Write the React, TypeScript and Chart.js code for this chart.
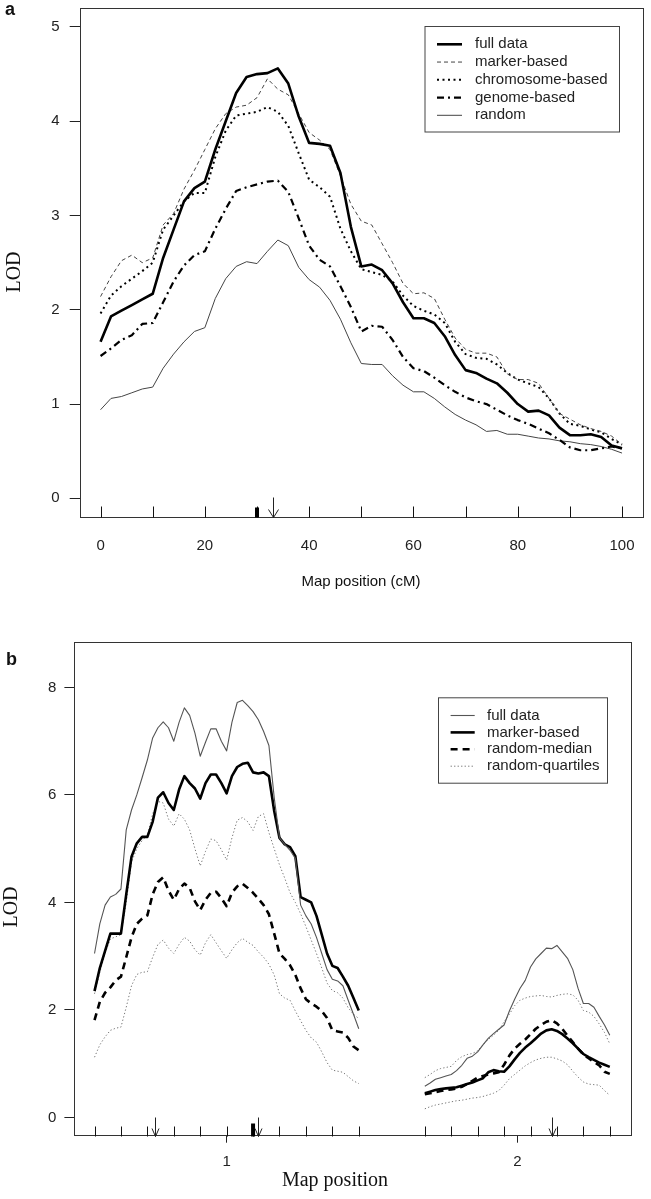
import React, { useEffect, useRef } from "react";
import { Chart, registerables } from "chart.js";

Chart.register(...registerables);

const SANS = '"Liberation Sans", Arial, Helvetica, sans-serif';
const SERIF = '"Liberation Serif", "Times New Roman", serif';

// ---------------- Panel a (map position in cM) ----------------
const posA = [0, 2, 4, 6, 8, 10, 12, 14, 16, 18, 20, 22, 24, 26, 28, 30, 32, 34, 36, 38, 40, 42, 44, 46, 48, 50, 52, 54, 56, 58, 60, 62, 64, 66, 68, 70, 72, 74, 76, 78, 80, 82, 84, 86, 88, 90, 92, 94, 96, 98, 100];
const fullA = [1.66, 1.93, 1.99, 2.05, 2.11, 2.17, 2.55, 2.85, 3.15, 3.29, 3.36, 3.7, 4.0, 4.3, 4.47, 4.5, 4.51, 4.56, 4.4, 4.05, 3.77, 3.76, 3.74, 3.45, 2.88, 2.46, 2.48, 2.42, 2.28, 2.08, 1.91, 1.91, 1.86, 1.72, 1.52, 1.36, 1.33, 1.27, 1.22, 1.12, 1.0, 0.92, 0.93, 0.88, 0.75, 0.67, 0.67, 0.68, 0.65, 0.56, 0.53];
const markerA = [2.14, 2.35, 2.52, 2.58, 2.5, 2.55, 2.9, 3.02, 3.28, 3.48, 3.7, 3.92, 4.08, 4.15, 4.17, 4.25, 4.45, 4.34, 4.28, 4.08, 3.88, 3.8, 3.7, 3.42, 3.12, 2.94, 2.9, 2.7, 2.5, 2.28, 2.17, 2.18, 2.12, 1.9, 1.7, 1.58, 1.54, 1.54, 1.5, 1.32, 1.26, 1.26, 1.22, 1.06, 0.9, 0.84, 0.78, 0.74, 0.71, 0.66, 0.57];
const chromA = [1.96, 2.15, 2.25, 2.33, 2.41, 2.5, 2.85, 3.0, 3.15, 3.24, 3.24, 3.62, 3.9, 4.06, 4.08, 4.1, 4.15, 4.1, 3.95, 3.66, 3.38, 3.3, 3.2, 2.86, 2.62, 2.43, 2.4, 2.37, 2.3, 2.15, 2.04, 1.99, 1.95, 1.86, 1.66, 1.53, 1.49, 1.48, 1.42, 1.33, 1.26, 1.22, 1.18, 1.06, 0.9, 0.79, 0.77, 0.73, 0.7, 0.63, 0.57];
const genomeA = [1.51, 1.59, 1.68, 1.73, 1.85, 1.86, 2.08, 2.3, 2.47, 2.58, 2.62, 2.86, 3.07, 3.26, 3.3, 3.33, 3.36, 3.37, 3.25, 2.97, 2.68, 2.53, 2.46, 2.25, 2.03, 1.77, 1.83, 1.82, 1.68, 1.5, 1.38, 1.35, 1.28, 1.2, 1.13, 1.07, 1.03, 1.0, 0.94, 0.88, 0.83, 0.79, 0.74, 0.69, 0.62, 0.54, 0.51, 0.51, 0.53, 0.55, 0.53];
const randomA = [0.94, 1.06, 1.08, 1.12, 1.16, 1.18, 1.38, 1.53, 1.66, 1.77, 1.81, 2.12, 2.33, 2.46, 2.51, 2.49, 2.62, 2.74, 2.68, 2.45, 2.32, 2.24, 2.1, 1.9, 1.65, 1.43, 1.42, 1.42, 1.3, 1.2, 1.13, 1.13, 1.06, 0.97, 0.89, 0.83, 0.78, 0.71, 0.72, 0.68, 0.68, 0.66, 0.64, 0.63, 0.61, 0.6, 0.58, 0.57, 0.55, 0.52, 0.48];
const xTicksA = [0, 20, 40, 60, 80, 100];
const yTicksA = [0, 1, 2, 3, 4, 5];
const markersA = [0, 10, 20, 30, 40, 50, 60, 70, 80, 90, 100];
const qtlA = [30];
const arrowsA = [33];

// ---------------- Panel b (two chromosomes) ----------------
const chrCenter = [1, 2];
const chrLength = [100, 70];
const cmPerUnit = 110;
const posB1 = [0, 2, 4, 6, 8, 10, 12, 14, 16, 18, 20, 22, 24, 26, 28, 30, 32, 34, 36, 38, 40, 42, 44, 46, 48, 50, 52, 54, 56, 58, 60, 62, 64, 66, 68, 70, 72, 74, 76, 78, 80, 82, 84, 86, 88, 90, 92, 94, 96, 98, 100];
const posB2 = [0, 2, 4, 6, 8, 10, 12, 14, 16, 18, 20, 22, 24, 26, 28, 30, 32, 34, 36, 38, 40, 42, 44, 46, 48, 50, 52, 54, 56, 58, 60, 62, 64, 66, 68, 70];
const fullB1 = [3.05, 3.6, 3.95, 4.1, 4.15, 4.25, 5.35, 5.72, 6.0, 6.32, 6.65, 7.06, 7.25, 7.36, 7.25, 7.0, 7.35, 7.62, 7.48, 7.15, 6.72, 6.98, 7.23, 7.23, 7.0, 6.82, 7.35, 7.72, 7.76, 7.66, 7.55, 7.4, 7.18, 6.92, 5.95, 5.2, 5.08, 4.97, 4.82, 3.95, 3.75, 3.6, 3.35, 3.05, 2.75, 2.57, 2.54, 2.45, 2.18, 1.92, 1.65];
const markerB1 = [2.35, 2.78, 3.1, 3.42, 3.42, 3.42, 4.15, 4.85, 5.1, 5.22, 5.22, 5.5, 5.95, 6.05, 5.85, 5.72, 6.1, 6.35, 6.22, 6.12, 5.93, 6.22, 6.38, 6.38, 6.22, 6.03, 6.35, 6.52, 6.58, 6.6, 6.42, 6.4, 6.42, 6.35, 5.7, 5.2, 5.08, 5.03, 4.86, 4.1, 4.05, 4.0, 3.75, 3.4, 3.05, 2.82, 2.78, 2.62, 2.45, 2.22, 1.99];
const medianB1 = [1.81, 2.15, 2.32, 2.42, 2.55, 2.62, 2.98, 3.35, 3.6, 3.7, 3.76, 4.15, 4.38, 4.47, 4.22, 4.05, 4.25, 4.35, 4.27, 4.02, 3.86, 4.05, 4.18, 4.2, 4.08, 3.93, 4.18, 4.3, 4.35, 4.27, 4.18, 4.07, 3.95, 3.78, 3.42, 3.05, 2.95, 2.83, 2.65, 2.4, 2.2, 2.12, 2.06, 1.98, 1.85, 1.62, 1.6, 1.58, 1.48, 1.32, 1.25];
const upperB1 = [2.3, 2.7, 3.05, 3.32, 3.36, 3.4, 4.0, 4.75, 5.0, 5.15, 5.25, 5.65, 5.88, 5.85, 5.55, 5.42, 5.65, 5.55, 5.35, 5.0, 4.68, 4.95, 5.18, 5.15, 4.98, 4.79, 5.2, 5.53, 5.58, 5.5, 5.34, 5.6, 5.65, 5.3, 5.0, 4.7, 4.45, 4.18, 4.0, 3.79, 3.55, 3.3, 3.05, 2.78, 2.5, 2.36, 2.32, 2.22, 2.04, 1.92, 1.84];
const lowerB1 = [1.12, 1.35, 1.5, 1.62, 1.66, 1.68, 2.05, 2.45, 2.66, 2.7, 2.71, 2.98, 3.22, 3.3, 3.15, 3.05, 3.22, 3.35, 3.28, 3.12, 3.02, 3.25, 3.4, 3.25, 3.1, 2.96, 3.12, 3.25, 3.33, 3.26, 3.2, 3.08, 2.98, 2.85, 2.65, 2.3, 2.22, 2.18, 1.98, 1.8, 1.62, 1.48, 1.4, 1.22, 1.02, 0.88, 0.86, 0.84, 0.76, 0.68, 0.63];
const fullB2 = [0.58, 0.64, 0.71, 0.74, 0.77, 0.8, 0.87, 0.97, 1.1, 1.14, 1.22, 1.35, 1.47, 1.56, 1.64, 1.72, 1.98, 2.2, 2.4, 2.55, 2.8, 2.95, 3.05, 3.15, 3.14, 3.2, 3.08, 2.96, 2.75, 2.4, 2.12, 2.12, 2.05, 1.88, 1.72, 1.53];
const markerB2 = [0.45, 0.48, 0.51, 0.53, 0.54, 0.55, 0.56, 0.59, 0.62, 0.65, 0.69, 0.73, 0.84, 0.88, 0.86, 0.85, 0.95, 1.08, 1.2, 1.3, 1.38, 1.47, 1.56, 1.62, 1.64, 1.61, 1.55, 1.47, 1.38, 1.28, 1.18, 1.12, 1.07, 1.02, 0.98, 0.94];
const medianB2 = [0.43, 0.45, 0.47, 0.49, 0.51, 0.52, 0.54, 0.57, 0.62, 0.68, 0.74, 0.77, 0.8, 0.82, 0.84, 0.98, 1.15, 1.28, 1.37, 1.45, 1.55, 1.65, 1.72, 1.78, 1.81, 1.75, 1.65, 1.52, 1.4, 1.28, 1.17, 1.1, 1.03, 0.97, 0.85, 0.81];
const upperB2 = [0.74, 0.8, 0.87, 0.91, 0.93, 0.95, 1.06, 1.13, 1.17, 1.19, 1.24, 1.35, 1.45, 1.53, 1.62, 1.78, 1.92, 2.08, 2.18, 2.22, 2.25, 2.26, 2.27, 2.25, 2.24, 2.27, 2.29, 2.3, 2.28, 2.18, 1.99, 1.96, 1.88, 1.74, 1.58, 1.37];
const lowerB2 = [0.16, 0.2, 0.23, 0.25, 0.27, 0.29, 0.31, 0.32, 0.34, 0.36, 0.37, 0.39, 0.42, 0.45, 0.5, 0.6, 0.72, 0.8, 0.88, 0.96, 1.02, 1.07, 1.1, 1.12, 1.12, 1.09, 1.05, 0.98, 0.86, 0.75, 0.66, 0.62, 0.61, 0.6, 0.5, 0.41];
const xTicksB = [1, 2];
const yTicksB = [0, 2, 4, 6, 8];
const markersB1 = [0, 10, 20, 30, 40, 50, 60, 70, 80, 90, 100];
const markersB2 = [0, 10, 20, 30, 40, 50, 60, 70];
const qtlB1 = [60];
const arrowsB1 = [23, 62];
const arrowsB2 = [48];

const toMap = (chr: number, cm: number) => chrCenter[chr] + (cm - chrLength[chr] / 2) / cmPerUnit;
const pts = (xs: number[], ys: number[]) => xs.map((x, i) => ({ x, y: ys[i] }));

type Sty = { color: string; width: number; dash: number[] };
const stA: Record<string, Sty> = {
  full: { color: "#000", width: 2.6, dash: [] },
  marker: { color: "#444", width: 1, dash: [4, 3] },
  chrom: { color: "#000", width: 2, dash: [2, 3.5] },
  genome: { color: "#000", width: 2.2, dash: [7, 4, 2, 4] },
  random: { color: "#444", width: 1, dash: [] },
};
const stB: Record<string, Sty> = {
  full: { color: "#555", width: 1.1, dash: [] },
  marker: { color: "#000", width: 2.6, dash: [] },
  median: { color: "#000", width: 2.6, dash: [7, 5] },
  quart: { color: "#777", width: 1, dash: [1.3, 2.2] },
};

const ds = (label: string, data: { x: number; y: number }[], s: Sty) => ({
  label,
  data,
  borderColor: s.color,
  borderWidth: s.width,
  borderDash: s.dash,
  pointRadius: 0,
  fill: false,
  tension: 0,
  borderCapStyle: "butt",
  borderJoinStyle: "round",
});

type PanelOpts = {
  markers: number[];
  bars: number[];
  arrows: number[];
  rugLen: number;
  barLen: number;
  arrowLen: number;
  arrowW: number;
  arrowH: number;
  legend: { box: number[]; rowY: number; rowH: number; lineX: number[]; textX: number; items: [string, Sty][] };
  texts: { text: string; x: number; y: number; font: string; rot?: boolean; align?: CanvasTextAlign; base?: CanvasTextBaseline }[];
};

function annot(o: PanelOpts) {
  return {
    id: "annot",
    afterDraw(chart: any) {
      const { ctx, chartArea: ca } = chart;
      const xs = chart.scales.x;
      ctx.save();
      ctx.setLineDash([]);
      ctx.lineWidth = 1;
      ctx.strokeStyle = "#333";
      ctx.strokeRect(Math.round(ca.left) + 0.5, Math.round(ca.top) + 0.5, Math.round(ca.right - ca.left), Math.round(ca.bottom - ca.top));
      const bot = Math.round(ca.bottom) + 0.5;
      ctx.strokeStyle = "#111";
      const seg = (a: number, b: number, c: number, d: number) => {
        ctx.beginPath();
        ctx.moveTo(a, b);
        ctx.lineTo(c, d);
        ctx.stroke();
      };
      for (const m of o.markers) {
        const px = Math.round(xs.getPixelForValue(m)) + 0.5;
        seg(px, bot, px, bot - o.rugLen);
      }
      ctx.fillStyle = "#000";
      for (const q of o.bars) {
        const px = xs.getPixelForValue(q);
        ctx.fillRect(px - 2, bot - o.barLen, 4, o.barLen);
      }
      ctx.strokeStyle = "#222";
      for (const a of o.arrows) {
        const px = Math.round(xs.getPixelForValue(a)) + 0.5;
        seg(px, bot - o.arrowLen, px, bot);
        seg(px - o.arrowW, bot - o.arrowH, px, bot);
        seg(px + o.arrowW, bot - o.arrowH, px, bot);
      }
      // legend
      const L = o.legend;
      ctx.strokeStyle = "#444";
      ctx.lineWidth = 1;
      ctx.strokeRect(L.box[0] + 0.5, L.box[1] + 0.5, L.box[2] - L.box[0], L.box[3] - L.box[1]);
      ctx.font = `15px ${SANS}`;
      ctx.fillStyle = "#222";
      ctx.textAlign = "left";
      ctx.textBaseline = "middle";
      L.items.forEach(([name, s], i) => {
        const y = L.rowY + i * L.rowH;
        ctx.save();
        ctx.strokeStyle = s.color;
        ctx.lineWidth = s.width;
        ctx.setLineDash(s.dash);
        seg(L.lineX[0], y, L.lineX[1], y);
        ctx.restore();
        ctx.fillText(name, L.textX, y);
      });
      // texts
      for (const t of o.texts) {
        ctx.save();
        ctx.font = t.font;
        ctx.fillStyle = "#111";
        ctx.textAlign = t.align || "center";
        ctx.textBaseline = t.base || "middle";
        ctx.translate(t.x, t.y);
        if (t.rot) ctx.rotate(-Math.PI / 2);
        ctx.fillText(t.text, 0, 0);
        ctx.restore();
      }
      ctx.restore();
    },
  };
}

function axisX(min: number, max: number, ticks: number[], height: number, tickLen: number, pad: number, showTicks: boolean) {
  return {
    type: "linear",
    min,
    max,
    afterBuildTicks: (s: any) => {
      s.ticks = ticks.map((v) => ({ value: v }));
    },
    afterFit: (s: any) => {
      s.height = height;
      s.paddingLeft = 0;
      s.paddingRight = 0;
      s.paddingTop = 0;
      s.paddingBottom = 0;
    },
    border: { display: false },
    grid: { display: showTicks, drawOnChartArea: false, drawTicks: showTicks, tickLength: tickLen, color: "#222", lineWidth: 1 },
    ticks: { font: { family: SANS, size: 15 }, color: "#222", padding: pad, maxRotation: 0, autoSkip: false },
  };
}

function axisY(min: number, max: number, ticks: number[], width: number, tickLen: number, pad: number) {
  return {
    type: "linear",
    min,
    max,
    afterBuildTicks: (s: any) => {
      s.ticks = ticks.map((v) => ({ value: v }));
    },
    afterFit: (s: any) => {
      s.width = width;
      s.paddingLeft = 0;
      s.paddingRight = 0;
      s.paddingTop = 0;
      s.paddingBottom = 0;
    },
    border: { display: false },
    grid: { display: true, drawOnChartArea: false, drawTicks: true, tickLength: tickLen, color: "#222", lineWidth: 1 },
    ticks: { font: { family: SANS, size: 15 }, color: "#222", padding: pad, autoSkip: false },
  };
}

export default function App() {
  const refA = useRef<HTMLCanvasElement>(null);
  const refB = useRef<HTMLCanvasElement>(null);

  useEffect(() => {
    const chartA = new Chart(refA.current as HTMLCanvasElement, {
      type: "line",
      data: {
        datasets: [
          ds("full data", pts(posA, fullA), stA.full),
          ds("marker-based", pts(posA, markerA), stA.marker),
          ds("chromosome-based", pts(posA, chromA), stA.chrom),
          ds("genome-based", pts(posA, genomeA), stA.genome),
          ds("random", pts(posA, randomA), stA.random),
        ] as any,
      },
      options: {
        responsive: false,
        animation: false,
        devicePixelRatio: 1,
        layout: { autoPadding: false, padding: { left: 0, right: 8.1, top: 8.1, bottom: 0 } },
        plugins: { legend: { display: false }, tooltip: { enabled: false }, title: { display: false } },
        scales: {
          x: axisX(-4, 104, xTicksA, 82.8, 0, 20, false),
          y: axisY(-0.2, 5.2, yTicksA, 79.7, 10, 10),
        } as any,
      },
      plugins: [
        annot({
          markers: markersA,
          bars: qtlA,
          arrows: arrowsA,
          rugLen: 11,
          barLen: 10,
          arrowLen: 20,
          arrowW: 5,
          arrowH: 8,
          legend: {
            box: [424.5, 26, 619, 131.5],
            rowY: 44.3,
            rowH: 17.75,
            lineX: [437, 462],
            textX: 475,
            items: [
              ["full data", stA.full],
              ["marker-based", stA.marker],
              ["chromosome-based", stA.chrom],
              ["genome-based", stA.genome],
              ["random", stA.random],
            ],
          },
          texts: [
            { text: "a", x: 5, y: 15, font: `bold 18px ${SANS}`, align: "left", base: "alphabetic" },
            { text: "LOD", x: 14.5, y: 272, font: `20px ${SERIF}`, rot: true },
            { text: "Map position (cM)", x: 361, y: 581.7, font: `15px ${SANS}` },
          ],
        }) as any,
      ],
    });

    const chartB = new Chart(refB.current as HTMLCanvasElement, {
      type: "line",
      data: {
        datasets: [
          ds("full data", pts(posB1.map((c) => toMap(0, c)), fullB1), stB.full),
          ds("full data", pts(posB2.map((c) => toMap(1, c)), fullB2), stB.full),
          ds("marker-based", pts(posB1.map((c) => toMap(0, c)), markerB1), stB.marker),
          ds("marker-based", pts(posB2.map((c) => toMap(1, c)), markerB2), stB.marker),
          ds("random-median", pts(posB1.map((c) => toMap(0, c)), medianB1), stB.median),
          ds("random-median", pts(posB2.map((c) => toMap(1, c)), medianB2), stB.median),
          ds("random-quartiles", pts(posB1.map((c) => toMap(0, c)), upperB1), stB.quart),
          ds("random-quartiles", pts(posB1.map((c) => toMap(0, c)), lowerB1), stB.quart),
          ds("random-quartiles", pts(posB2.map((c) => toMap(1, c)), upperB2), stB.quart),
          ds("random-quartiles", pts(posB2.map((c) => toMap(1, c)), lowerB2), stB.quart),
        ] as any,
      },
      options: {
        responsive: false,
        animation: false,
        devicePixelRatio: 1,
        layout: { autoPadding: false, padding: { left: 0, right: 20.6, top: 42.3, bottom: 0 } },
        plugins: { legend: { display: false }, tooltip: { enabled: false }, title: { display: false } },
        scales: {
          x: axisX(0.4745, 2.3891, xTicksB, 63.3, 7, 10, true),
          y: axisY(-0.34, 8.84, yTicksB, 73.9, 9.5, 8),
        } as any,
      },
      plugins: [
        annot({
          markers: [...markersB1.map((c) => toMap(0, c)), ...markersB2.map((c) => toMap(1, c))],
          bars: qtlB1.map((c) => toMap(0, c)),
          arrows: [...arrowsB1.map((c) => toMap(0, c)), ...arrowsB2.map((c) => toMap(1, c))],
          rugLen: 10,
          barLen: 13,
          arrowLen: 19,
          arrowW: 3.5,
          arrowH: 8,
          legend: {
            box: [438, 97.3, 607, 182.7],
            rowY: 115.5,
            rowH: 16.9,
            lineX: [450.6, 474.7],
            textX: 487,
            items: [
              ["full data", stB.full],
              ["marker-based", stB.marker],
              ["random-median", stB.median],
              ["random-quartiles", stB.quart],
            ],
          },
          texts: [
            { text: "b", x: 6, y: 65, font: `bold 18px ${SANS}`, align: "left", base: "alphabetic" },
            { text: "LOD", x: 12, y: 307, font: `20px ${SERIF}`, rot: true },
            { text: "Map position", x: 335, y: 586, font: `20px ${SERIF}`, base: "alphabetic" },
          ],
        }) as any,
      ],
    });

    return () => {
      chartA.destroy();
      chartB.destroy();
    };
  }, []);

  return (
    <div style={{ position: "absolute", left: 0, top: 0, width: 651, height: 1199, background: "#fff" }}>
      <canvas ref={refA} width={651} height={600} style={{ position: "absolute", left: 0, top: 0, display: "block" }} />
      <canvas ref={refB} width={651} height={599} style={{ position: "absolute", left: 0, top: 600, display: "block" }} />
    </div>
  );
}
